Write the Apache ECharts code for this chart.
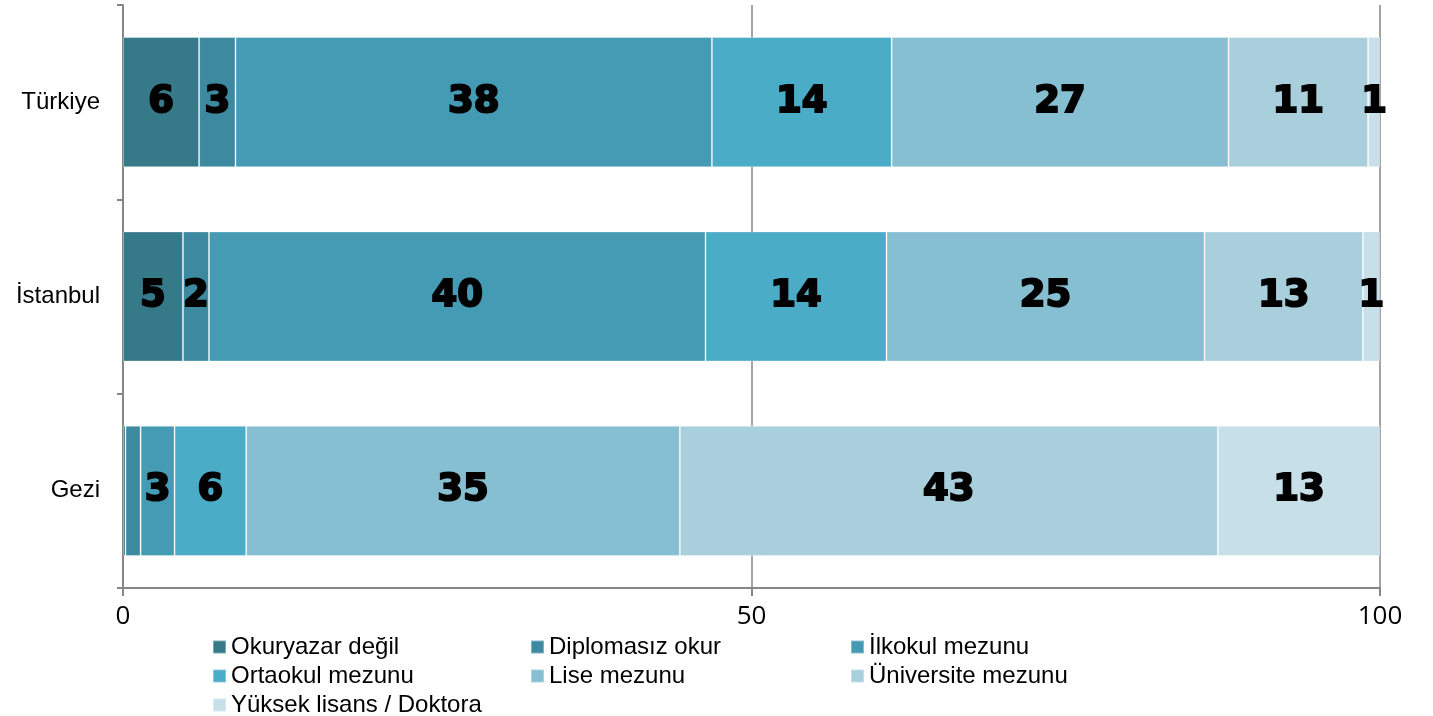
<!DOCTYPE html>
<html><head><meta charset="utf-8">
<script src="https://cdn.jsdelivr.net/npm/echarts@6/dist/echarts.min.js"></script>
<style>html,body{margin:0;padding:0;background:#fff}#c{width:1433px;height:716px}</style>
</head><body><div id="c"></div>
<script>
const categories = ['Türkiye', 'İstanbul', 'Gezi'];
const seriesNames = ['Okuryazar değil', 'Diplomasız okur', 'İlkokul mezunu', 'Ortaokul mezunu', 'Lise mezunu', 'Üniversite mezunu', 'Yüksek lisans / Doktora'];
const okuryazar = [6.05, 4.77, 0.2];
const diplomasiz = [2.9, 2.07, 1.2];
const ilkokul = [37.9, 39.5, 2.7];
const ortaokul = [14.3, 14.4, 5.7];
const lise = [26.8, 25.3, 34.5];
const universite = [11.1, 12.6, 42.8];
const yuksek = [0.95, 1.35, 12.9];
const values = [okuryazar, diplomasiz, ilkokul, ortaokul, lise, universite, yuksek];
const xTicks = [0, 50, 100];
const colors = ['#367a8a', '#3d8aa0', '#449bb3', '#4aacc6', '#85bfd1', '#a9cfdd', '#c6dfe8'];
// labels hidden where the value is too small to print (Gezi small groups)
const hideLabel = [[false, false, true], [false, false, true], [false, false, false], [false, false, false], [false, false, false], [false, false, false], [false, false, false]];

const chart = echarts.init(document.getElementById('c'));
const series = seriesNames.map((n, i) => ({
  name: n, type: 'bar', stack: 'total', barCategoryGap: '33%',
  itemStyle: { color: colors[i], borderColor: 'rgba(255,255,255,0.35)', borderWidth: 1 },
  label: { show: true, position: 'inside', color: '#000', fontFamily: 'DejaVu Sans', fontWeight: 'bold', fontSize: 37,
    textBorderColor: '#000', textBorderWidth: 2,
    formatter: p => Math.round(p.value) },
  data: values[i].map((v, j) => hideLabel[i][j] ? { value: v, label: { show: false } } : v)
}));
const legendText = { fontFamily: 'Liberation Sans', fontSize: 24, lineHeight: 22, color: '#000' };
const legendBase = { orient: 'vertical', itemWidth: 13, itemHeight: 13, itemGap: 5, icon: 'rect', textStyle: legendText, top: 635, height: 90, selectedMode: false, padding: 0 };
chart.setOption({
  animation: false,
  color: colors,
  grid: { left: 123, right: 53, top: 5, bottom: 128 },
  xAxis: { type: 'value', min: xTicks[0], max: xTicks[xTicks.length - 1], interval: 50,
    axisLine: { show: true, lineStyle: { color: '#868686', width: 2 } },
    axisTick: { show: true, length: 8, lineStyle: { color: '#868686', width: 2 } },
    axisLabel: { fontFamily: 'Open Sans', fontSize: 26, color: '#000', margin: 16 },
    splitLine: { show: true, lineStyle: { color: '#868686', width: 1.5 } } },
  yAxis: { type: 'category', data: categories, inverse: true,
    axisLine: { show: true, lineStyle: { color: '#868686', width: 2 } },
    axisTick: { show: true, length: 6, lineStyle: { color: '#868686', width: 2 } },
    axisLabel: { fontFamily: 'Liberation Sans', fontSize: 24, color: '#000', margin: 23 } },
  legend: [
    Object.assign({}, legendBase, { left: 212, data: [seriesNames[0], seriesNames[3], seriesNames[6]] }),
    Object.assign({}, legendBase, { left: 530, data: [seriesNames[1], seriesNames[4]] }),
    Object.assign({}, legendBase, { left: 850, data: [seriesNames[2], seriesNames[5]] })
  ],
  series: series
});
</script></body></html>
